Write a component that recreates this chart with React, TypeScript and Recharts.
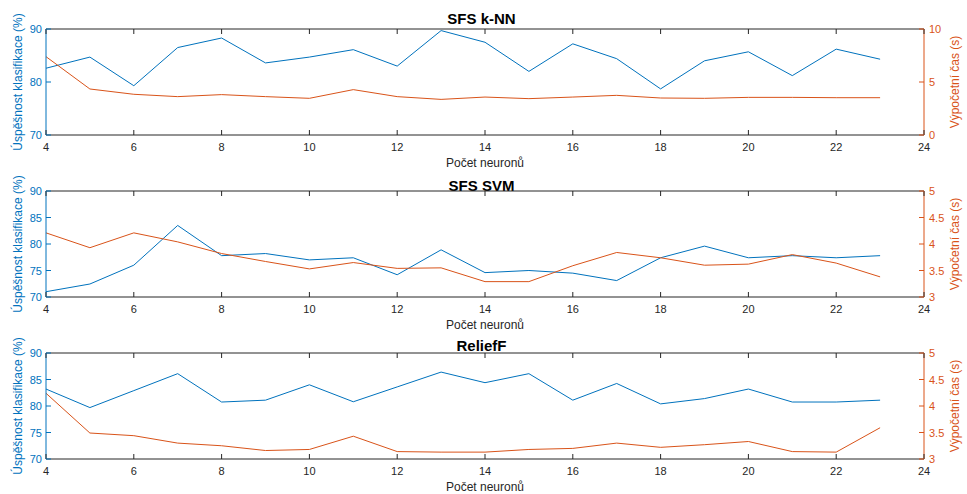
import { LineChart, Line, XAxis, YAxis, Label, ReferenceLine } from "recharts";

const neurons = [4, 5, 6, 7, 8, 9, 10, 11, 12, 13, 14, 15, 16, 17, 18, 19, 20, 21, 22, 23];

const knnAccuracy = [82.6, 84.7, 79.3, 86.5, 88.3, 83.6, 84.7, 86.1, 83.0, 89.7, 87.5, 82.0, 87.2, 84.4, 78.7, 84.0, 85.7, 81.2, 86.2, 84.3];
const knnTime = [7.39, 4.34, 3.84, 3.62, 3.81, 3.62, 3.46, 4.28, 3.62, 3.36, 3.58, 3.43, 3.58, 3.74, 3.49, 3.46, 3.55, 3.55, 3.52, 3.52];

const svmAccuracy = [71.0, 72.45, 76.0, 83.5, 77.8, 78.2, 77.0, 77.4, 74.2, 78.9, 74.6, 75.0, 74.5, 73.1, 77.4, 79.6, 77.4, 77.8, 77.4, 77.8];
const svmTime = [4.21, 3.93, 4.21, 4.04, 3.82, 3.67, 3.53, 3.65, 3.54, 3.55, 3.29, 3.29, 3.59, 3.84, 3.74, 3.6, 3.62, 3.8, 3.64, 3.38];

const reliefAccuracy = [83.2, 79.7, 82.9, 86.1, 80.75, 81.1, 84.0, 80.8, 83.6, 86.4, 84.4, 86.1, 81.1, 84.25, 80.4, 81.4, 83.2, 80.75, 80.75, 81.1];
const reliefTime = [4.24, 3.49, 3.44, 3.3, 3.25, 3.16, 3.18, 3.43, 3.14, 3.13, 3.13, 3.18, 3.2, 3.3, 3.22, 3.27, 3.33, 3.14, 3.13, 3.59];

const xTicks = [4, 6, 8, 10, 12, 14, 16, 18, 20, 22, 24];
const accTicksWide = [70, 80, 90];
const accTicksFine = [70, 75, 80, 85, 90];
const timeTicksWide = [0, 5, 10];
const timeTicksFine = [3, 3.5, 4, 4.5, 5];

const BLUE = "#0072BD";
const ORANGE = "#D95319";
const DARK = "#262626";
const FONT = "'Liberation Sans', Arial, Helvetica, sans-serif";

const W = 967;
const H = 176;
const TOP = 29;
const X_AXIS_H = 41;

const XTick = (props: any) => {
  const { x, y, payload } = props;
  return (
    <g>
      <line x1={x} x2={x} y1={y} y2={y - 5} stroke={DARK} strokeWidth={1} />
      <line x1={x} x2={x} y1={TOP} y2={TOP + 5} stroke={DARK} strokeWidth={1} />
      <text x={x} y={y + 16} textAnchor="middle" fontSize={11} fill={DARK} fontFamily={FONT}>
        {payload.value}
      </text>
    </g>
  );
};

const LeftTick = (props: any) => {
  const { x, y, payload } = props;
  return (
    <g>
      <line x1={x} x2={x + 5} y1={y} y2={y} stroke={BLUE} strokeWidth={1} />
      <text x={x - 4} y={y + 4} textAnchor="end" fontSize={11} fill={BLUE} fontFamily={FONT}>
        {payload.value}
      </text>
    </g>
  );
};

const RightTick = (props: any) => {
  const { x, y, payload } = props;
  return (
    <g>
      <line x1={x} x2={x - 5} y1={y} y2={y} stroke={ORANGE} strokeWidth={1} />
      <text x={x + 5} y={y + 4} textAnchor="start" fontSize={11} fill={ORANGE} fontFamily={FONT}>
        {payload.value}
      </text>
    </g>
  );
};

type PanelProps = {
  title: string;
  titleY: number;
  top: number;
  accuracy: number[];
  time: number[];
  accTicks: number[];
  timeTicks: number[];
};

function Panel({ title, titleY, top, accuracy, time, accTicks, timeTicks }: PanelProps) {
  const data = neurons.map((n, i) => ({ n, acc: accuracy[i], time: time[i] }));
  const tMin = timeTicks[0];
  const tMax = timeTicks[timeTicks.length - 1];
  return (
    <div style={{ position: "absolute", left: 0, top, width: W, height: H }}>
      <div
        style={{
          position: "absolute",
          left: 0,
          width: W - 4,
          top: titleY - 9,
          textAlign: "center",
          fontFamily: FONT,
          fontWeight: "bold",
          fontSize: 15,
          lineHeight: "18px",
          color: "#000",
        }}
      >
        {title}
      </div>
      <LineChart width={W} height={H} data={data} margin={{ top: TOP, right: 0, bottom: 0, left: 0 }}>
        <XAxis
          dataKey="n"
          type="number"
          domain={[4, 24]}
          ticks={xTicks}
          height={X_AXIS_H}
          stroke={DARK}
          tickLine={false}
          tickSize={0}
          tickMargin={0}
          tick={<XTick />}
          interval={0}
        >
          <Label
            value="Počet neuronů"
            position="insideBottom"
            offset={9}
            style={{ fontSize: 12, fill: DARK, fontFamily: FONT }}
          />
        </XAxis>
        <YAxis
          yAxisId="acc"
          orientation="left"
          width={46}
          domain={[70, 90]}
          ticks={accTicks}
          stroke={BLUE}
          tickLine={false}
          tickSize={0}
          tickMargin={0}
          tick={<LeftTick />}
          interval={0}
        >
          <Label
            value="Úspěšnost klasifikace (%)"
            angle={-90}
            position="insideLeft"
            offset={18}
            style={{ fontSize: 12, fill: BLUE, fontFamily: FONT, textAnchor: "middle" }}
          />
        </YAxis>
        <YAxis
          yAxisId="time"
          orientation="right"
          width={43}
          domain={[tMin, tMax]}
          ticks={timeTicks}
          stroke={ORANGE}
          tickLine={false}
          tickSize={0}
          tickMargin={0}
          tick={<RightTick />}
          interval={0}
        >
          <Label
            value="Výpočetní čas (s)"
            angle={-90}
            position="insideRight"
            offset={12}
            style={{ fontSize: 12, fill: ORANGE, fontFamily: FONT, textAnchor: "middle" }}
          />
        </YAxis>
        <ReferenceLine yAxisId="acc" y={90} stroke={DARK} strokeWidth={1} />
        <Line
          yAxisId="acc"
          dataKey="acc"
          stroke={BLUE}
          strokeWidth={1}
          dot={false}
          isAnimationActive={false}
        />
        <Line
          yAxisId="time"
          dataKey="time"
          stroke={ORANGE}
          strokeWidth={1}
          dot={false}
          isAnimationActive={false}
        />
      </LineChart>
    </div>
  );
}

export default function App() {
  return (
    <div
      style={{
        position: "absolute",
        left: 0,
        top: 0,
        width: W,
        height: 494,
        overflow: "hidden",
        background: "#fff",
      }}
    >
      <Panel title="SFS k-NN" titleY={19} top={0} accuracy={knnAccuracy} time={knnTime} accTicks={accTicksWide} timeTicks={timeTicksWide} />
      <Panel title="SFS SVM" titleY={24} top={162} accuracy={svmAccuracy} time={svmTime} accTicks={accTicksFine} timeTicks={timeTicksFine} />
      <Panel title="ReliefF" titleY={22} top={324} accuracy={reliefAccuracy} time={reliefTime} accTicks={accTicksFine} timeTicks={timeTicksFine} />
    </div>
  );
}
